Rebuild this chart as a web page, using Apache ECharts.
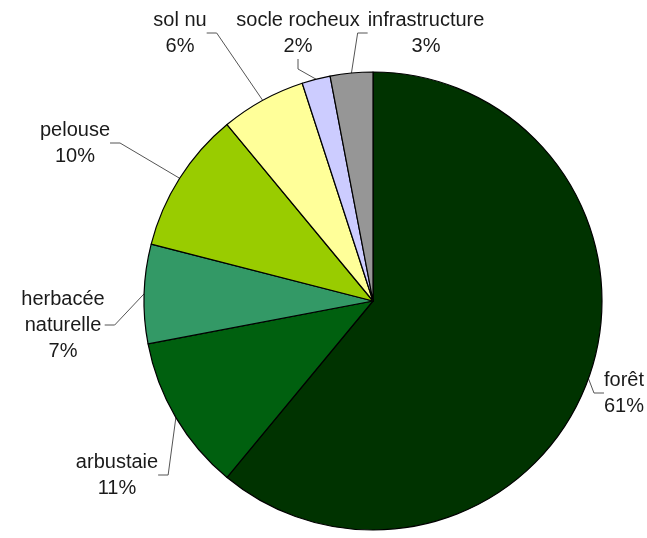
<!DOCTYPE html>
<html>
<head>
<meta charset="utf-8">
<script src="https://cdn.jsdelivr.net/npm/echarts@6/dist/echarts.min.js"></script>
<style>
html,body{margin:0;padding:0;background:#fff;}
#chart{width:647px;height:538px;}
</style>
</head>
<body>
<div id="chart"></div>
<script>
const categories = ['forêt', 'arbustaie', 'herbacée\nnaturelle', 'pelouse', 'sol nu', 'socle rocheux', 'infrastructure'];
const values = [61, 11, 7, 10, 6, 2, 3];
const colors = ['#003300', '#00600f', '#339966', '#99cc00', '#ffff99', '#ccccff', '#969696'];
// label centre positions (layout only)
const labelPos = [[624, 393], [117, 475], [63, 325], [75, 143], [180, 33], [298, 33], [426, 33]];

const chart = echarts.init(document.getElementById('chart'), null, {renderer: 'canvas'});
chart.setOption({
  animation: false,
  backgroundColor: '#ffffff',
  series: [{
    type: 'pie',
    center: [373, 301],
    radius: 229,
    startAngle: 90,
    clockwise: true,
    avoidLabelOverlap: false,
    data: categories.map((c, i) => ({name: c, value: values[i], itemStyle: {color: colors[i]}})),
    itemStyle: {borderColor: '#000', borderWidth: 1.2},
    label: {
      show: true,
      position: 'outside',
      formatter: '{b}\n{c}%',
      fontFamily: 'Liberation Sans, Arial, sans-serif',
      fontSize: 20,
      lineHeight: 26,
      color: '#1a1a1a',
      align: 'center'
    },
    labelLine: {show: true, length: 10, length2: 10, lineStyle: {color: '#555', width: 1}},
    labelLayout: function (p) {
      const pos = labelPos[p.dataIndex];
      return {x: pos[0], y: pos[1], align: 'center', verticalAlign: 'middle'};
    },
    emphasis: {disabled: true}
  }]
});
</script>
</body>
</html>
